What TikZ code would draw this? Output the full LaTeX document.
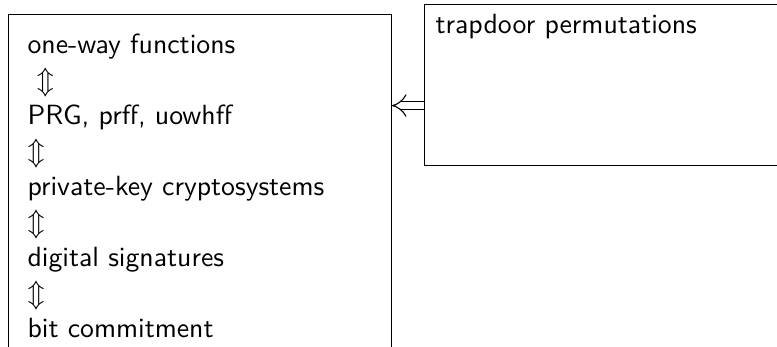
\documentclass[tikz,border=0pt]{standalone}
\usepackage{amsmath}
\usepackage{amssymb}
\usetikzlibrary{arrows.meta}
\tikzstyle{listbox} = [rectangle, draw, anchor=north west, align=left,
font=\sffamily\fontsize{10}{12.8}\selectfont]
\tikzstyle{line} = [draw, double, double distance=2.5pt, -{Implies[scale=1.3]}]

\begin{document}
\begin{tikzpicture}
	\useasboundingbox (0,0) rectangle (279.7pt,-124.9pt);
	% Place nodes
	\node [listbox, text width=124.1pt, inner xsep=6.8pt, inner ysep=7pt,
		text depth=120pt] (equiv) at (2.9pt,-5pt) {
		one-way functions\\
		\ $\Updownarrow$\\
		PRG, prff, uowhff\\
		$\Updownarrow$\\
		private-key cryptosystems\\
		$\Updownarrow$\\
		digital signatures\\
		$\Updownarrow$\\
		bit commitment
	};
	\node [listbox, text width=150pt, inner xsep=4pt, inner ysep=3.6pt,
		text depth=43.8pt] (trap) at (152.6pt,-1.44pt) {trapdoor permutations};
	%
	\coordinate (imp) at ([yshift=-7.4pt]trap.west);
	\path [line] (imp) -- (imp -| equiv.east);
\end{tikzpicture}
\end{document}
